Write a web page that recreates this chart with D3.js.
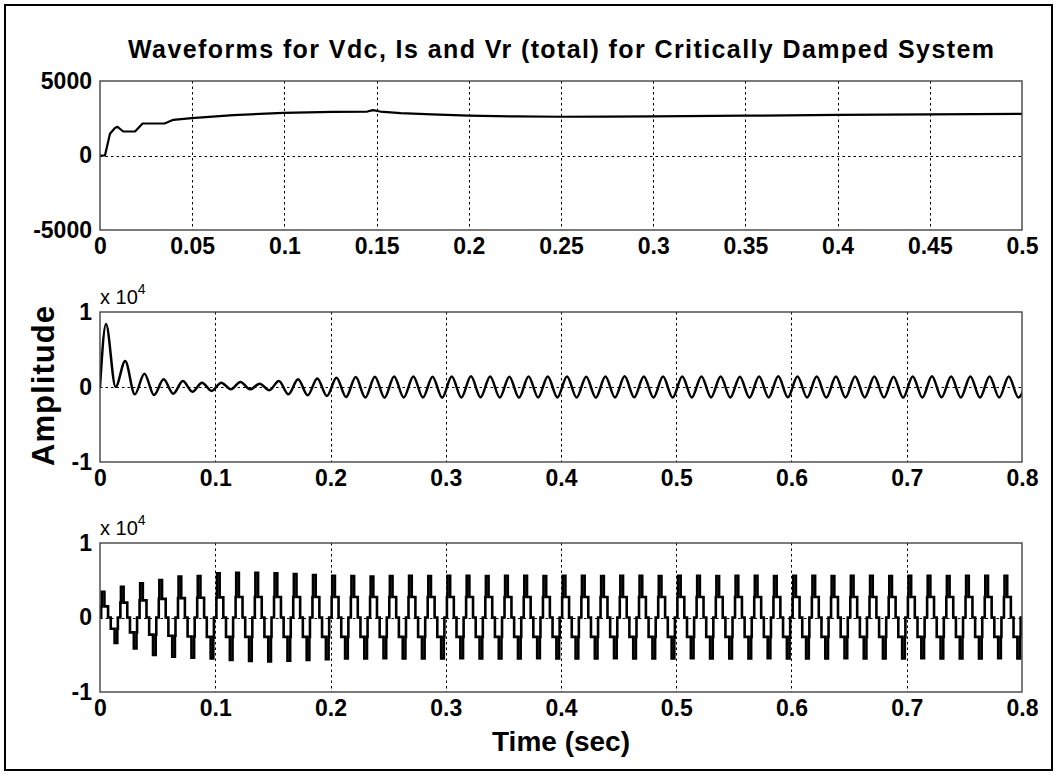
<!DOCTYPE html>
<html><head><meta charset="utf-8">
<script src="https://cdn.jsdelivr.net/npm/d3@7"></script>
<style>
body{margin:0;background:#fff;}
svg{display:block;}
text{font-family:"Liberation Sans",Arial,Helvetica,sans-serif;fill:#000;}
</style>
</head><body><svg id="c" width="1057" height="775"></svg>
<script>
// ---------------- data ----------------
const chartTitle = "Waveforms for Vdc, Is and Vr (total) for Critically Damped System";
const xLabel = "Time (sec)";
const yLabel = "Amplitude";

// Panel 1: Vdc
const vdcTicksX = [0, 0.05, 0.1, 0.15, 0.2, 0.25, 0.3, 0.35, 0.4, 0.45, 0.5];
const vdcTickLabelsX = ["0", "0.05", "0.1", "0.15", "0.2", "0.25", "0.3", "0.35", "0.4", "0.45", "0.5"];
const vdcTicksY = [-5000, 0, 5000];
const vdcTickLabelsY = ["-5000", "0", "5000"];
const vdcTime  = [0, 0.0027, 0.0054, 0.0081, 0.0095, 0.0126, 0.019, 0.0231, 0.035, 0.0398, 0.0497, 0.0723, 0.0994, 0.1265, 0.145, 0.148, 0.152, 0.163, 0.18, 0.2, 0.225, 0.25, 0.275, 0.3, 0.35, 0.4, 0.45, 0.5];
const vdcValue = [0, 0, 1456, 1850, 1926, 1610, 1610, 2148, 2148, 2396, 2510, 2711, 2866, 2933, 2950, 3047, 2950, 2846, 2760, 2680, 2620, 2600, 2610, 2630, 2670, 2720, 2760, 2790];

// Panels 2 & 3 share the time axis
const tTicks = [0, 0.1, 0.2, 0.3, 0.4, 0.5, 0.6, 0.7, 0.8];
const tTickLabels = ["0", "0.1", "0.2", "0.3", "0.4", "0.5", "0.6", "0.7", "0.8"];
const ampTicks = [-10000, 0, 10000];
const ampTickLabels = ["-1", "0", "1"];
const cycle = 1 / 60;          // supply period (s)

// Panel 2: Is — per-cycle peak and following trough, first peak at isFirstPeak
const isFirstPeak = 0.0052;
const isPeaks = [8400, 3470, 1780, 1020, 800, 580, 580, 670, 450, 800, 1020, 1150, 1240, 1330, 1380, 1400,
  1400, 1380, 1400, 1420, 1400, 1380, 1400, 1410, 1400, 1380, 1400, 1420, 1400, 1390, 1400, 1410,
  1400, 1380, 1400, 1420, 1400, 1390, 1400, 1410, 1400, 1380, 1400, 1420, 1400, 1390, 1400, 1400];
const isTroughs = [0, -980, -1070, -890, -620, -530, -310, -310, -440, -980, -1110, -1200, -1330, -1400, -1420, -1400,
  -1400, -1420, -1400, -1380, -1400, -1420, -1400, -1390, -1400, -1420, -1400, -1380, -1400, -1410, -1400, -1390,
  -1400, -1420, -1400, -1380, -1400, -1410, -1400, -1390, -1400, -1420, -1400, -1380, -1400, -1410, -1400, -1400];

// Panel 3: Vr (total) — per cycle: positive step, positive peak, negative step, negative peak
const vrStepPos = [1500, 2000, 2300, 2500, 2600, 2650, 2700, 2750, 2750, 2750, 2750, 2750, 2750, 2750, 2750, 2750,
  2750, 2750, 2750, 2750, 2750, 2750, 2750, 2750, 2750, 2750, 2750, 2750, 2750, 2750, 2750, 2750,
  2750, 2750, 2750, 2750, 2750, 2750, 2750, 2750, 2750, 2750, 2750, 2750, 2750, 2750, 2750, 2750];
const vrPeakPos = [3460, 4130, 4590, 5030, 5480, 5570, 5930, 6010, 6010, 5930, 5840, 5700, 5600, 5550, 5500, 5550,
  5600, 5550, 5600, 5600, 5550, 5600, 5600, 5550, 5600, 5600, 5550, 5600, 5600, 5550, 5600, 5600,
  5550, 5600, 5600, 5550, 5600, 5600, 5550, 5600, 5600, 5550, 5600, 5600, 5550, 5600, 5600, 5600];
const vrStepNeg = [-1500, -2000, -2300, -2450, -2550, -2600, -2600, -2600, -2600, -2600, -2600, -2600, -2600, -2600, -2600, -2600,
  -2600, -2600, -2600, -2600, -2600, -2600, -2600, -2600, -2600, -2600, -2600, -2600, -2600, -2600, -2600, -2600,
  -2600, -2600, -2600, -2600, -2600, -2600, -2600, -2600, -2600, -2600, -2600, -2600, -2600, -2600, -2600, -2600];
const vrPeakNeg = [-3420, -4140, -5030, -5260, -5400, -5480, -5700, -5840, -5900, -5800, -5700, -5600, -5500, -5500, -5450, -5500,
  -5480, -5500, -5450, -5500, -5480, -5500, -5450, -5500, -5480, -5500, -5450, -5500, -5480, -5500, -5450, -5500,
  -5480, -5500, -5450, -5500, -5480, -5500, -5450, -5500, -5480, -5500, -5450, -5500, -5480, -5500, -5450, -5500];
// switching instants inside one cycle, as fractions of the cycle
const vrPhase = {rise: 0.06, posBlockA: 0.09, posBlockB: 0.23, fall: 0.42, negRise: 0.56, negBlockA: 0.76, negBlockB: 0.90, negFall: 0.93};

// ---------------- layout ----------------
const svg = d3.select("#c");
const L = 100, R = 1022;
const panels = [{top: 81, bottom: 230}, {top: 312, bottom: 462}, {top: 543, bottom: 692}];
const FONT = "Liberation Sans, Arial, sans-serif";
const TICK_FS = 23;

svg.append("rect").attr("x", 5).attr("y", 5).attr("width", 1047).attr("height", 765)
  .attr("fill", "#fff").attr("stroke", "#000").attr("stroke-width", 2);

function drawPanel(p, xDomain, yDomain, xTicks, xLabels, yTicks, yLabels, idx) {
  const x = d3.scaleLinear().domain(xDomain).range([L, R]);
  const y = d3.scaleLinear().domain(yDomain).range([p.bottom, p.top]);
  const g = svg.append("g");
  g.append("clipPath").attr("id", "clip" + idx).append("rect")
    .attr("x", L).attr("y", p.top).attr("width", R - L).attr("height", p.bottom - p.top);
  // grid
  const grid = g.append("g").attr("stroke", "#000").attr("stroke-width", 1).attr("stroke-dasharray", "2.5,3");
  xTicks.slice(1, -1).forEach(t => grid.append("line")
    .attr("x1", Math.round(x(t)) + 0.5).attr("x2", Math.round(x(t)) + 0.5).attr("y1", p.top).attr("y2", p.bottom));
  yTicks.slice(1, -1).forEach(v => grid.append("line")
    .attr("y1", Math.round(y(v)) + 0.5).attr("y2", Math.round(y(v)) + 0.5).attr("x1", L).attr("x2", R));
  // axes (labels only; MATLAB style box drawn separately)
  const ax = d3.axisBottom(x).tickValues(xTicks).tickFormat((d, i) => xLabels[i]).tickSize(0).tickPadding(8);
  const axG = g.append("g").attr("transform", `translate(0,${p.bottom})`).call(ax);
  axG.select(".domain").remove();
  axG.selectAll("text").attr("font-family", FONT).attr("font-size", TICK_FS).attr("font-weight", "bold").attr("fill", "#000");
  const ay = d3.axisLeft(y).tickValues(yTicks).tickFormat((d, i) => yLabels[i]).tickSize(0).tickPadding(8);
  const ayG = g.append("g").attr("transform", `translate(${L},0)`).call(ay);
  ayG.select(".domain").remove();
  ayG.selectAll("text").attr("font-family", FONT).attr("font-size", TICK_FS).attr("font-weight", "bold").attr("fill", "#000");
  return {x, y, g, clip: "url(#clip" + idx + ")"};
}

function drawBox(p) {
  svg.append("rect").attr("x", L).attr("y", p.top).attr("width", R - L).attr("height", p.bottom - p.top)
    .attr("fill", "none").attr("stroke", "#444").attr("stroke-width", 1.4);
}

// ---- panel 1
const P1 = drawPanel(panels[0], [0, 0.5], [-5000, 5000], vdcTicksX, vdcTickLabelsX, vdcTicksY, vdcTickLabelsY, 1);
P1.g.append("path").datum(vdcTime.map((t, i) => [t, vdcValue[i]]))
  .attr("clip-path", P1.clip)
  .attr("fill", "none").attr("stroke", "#000").attr("stroke-width", 2.2).attr("stroke-linejoin", "round")
  .attr("d", d3.line().x(d => P1.x(d[0])).y(d => P1.y(d[1])));
drawBox(panels[0]);

// ---- panel 2
const P2 = drawPanel(panels[1], [0, 0.8], [-10000, 10000], tTicks, tTickLabels, ampTicks, ampTickLabels, 2);
const isPts = [[0, 0]];
isPeaks.forEach((v, k) => {
  isPts.push([isFirstPeak + k * cycle, v]);
  isPts.push([isFirstPeak + (k + 0.5) * cycle, isTroughs[k]]);
});
isPts.push([isFirstPeak + isPeaks.length * cycle, isPeaks[isPeaks.length - 1]]);
P2.g.append("path").datum(isPts)
  .attr("clip-path", P2.clip)
  .attr("fill", "none").attr("stroke", "#000").attr("stroke-width", 2.5).attr("stroke-linejoin", "round")
  .attr("d", d3.line().curve(d3.curveMonotoneX).x(d => P2.x(d[0])).y(d => P2.y(d[1])));
drawBox(panels[1]);

// ---- panel 3
const P3 = drawPanel(panels[2], [0, 0.8], [-10000, 10000], tTicks, tTickLabels, ampTicks, ampTickLabels, 3);
const vrPts = [];
vrPeakPos.forEach((vp, k) => {
  const t0 = k * cycle, f = ph => t0 + ph * cycle;
  const s = vrStepPos[k], sn = vrStepNeg[k], vn = vrPeakNeg[k];
  vrPts.push([t0, 0], [f(vrPhase.rise), 0], [f(vrPhase.rise), s],
    [f(vrPhase.posBlockA), s], [f(vrPhase.posBlockA), vp], [f(vrPhase.posBlockB), vp], [f(vrPhase.posBlockB), s],
    [f(vrPhase.fall), s], [f(vrPhase.fall), 0],
    [f(vrPhase.negRise), 0], [f(vrPhase.negRise), sn],
    [f(vrPhase.negBlockA), sn], [f(vrPhase.negBlockA), vn], [f(vrPhase.negBlockB), vn], [f(vrPhase.negBlockB), sn],
    [f(vrPhase.negFall), sn], [f(vrPhase.negFall), 0]);
});
vrPts.push([vrPeakPos.length * cycle, 0]);
P3.g.append("path").datum(vrPts)
  .attr("clip-path", P3.clip)
  .attr("fill", "none").attr("stroke", "#000").attr("stroke-width", 2.6).attr("stroke-linejoin", "miter")
  .attr("d", d3.line().x(d => P3.x(d[0])).y(d => P3.y(d[1])));
drawBox(panels[2]);

// exponent labels
[panels[1], panels[2]].forEach(p => {
  const t = svg.append("text").attr("x", L).attr("y", p.top - 8).attr("font-size", 20).attr("font-family", FONT);
  t.append("tspan").text("x 10");
  t.append("tspan").attr("dy", -10).attr("font-size", 14).text("4");
});

// title & axis labels
svg.append("text").attr("x", (L + R) / 2).attr("y", 58).attr("text-anchor", "middle")
  .attr("font-size", 25).attr("font-weight", "bold").attr("font-family", FONT)
  .attr("textLength", 866).attr("lengthAdjust", "spacing").text(chartTitle);
svg.append("text").attr("transform", `translate(54,386) rotate(-90)`).attr("text-anchor", "middle")
  .attr("font-size", 31).attr("font-weight", "bold").attr("font-family", FONT)
  .attr("textLength", 160).attr("lengthAdjust", "spacing").text(yLabel);
svg.append("text").attr("x", (L + R) / 2).attr("y", 751).attr("text-anchor", "middle")
  .attr("font-size", 28).attr("font-weight", "bold").attr("font-family", FONT).text(xLabel);
</script>
</body></html>
